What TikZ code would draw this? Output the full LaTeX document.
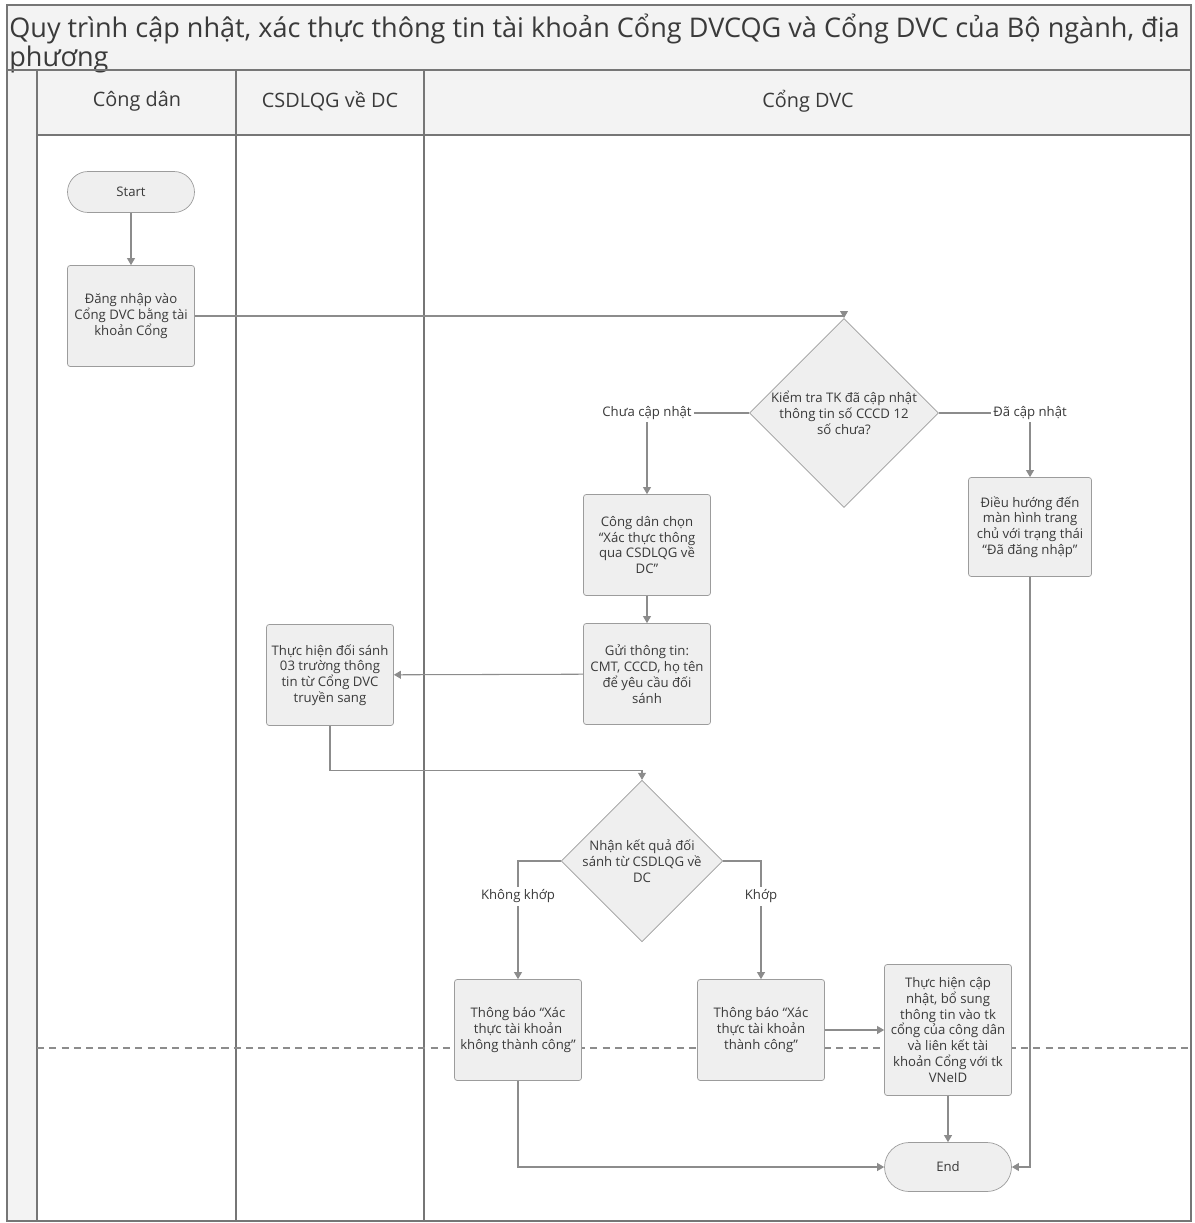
\documentclass[tikz,border=0pt]{standalone}
\usepackage{fontspec}
\setmainfont{Open Sans}
\usetikzlibrary{arrows.meta,shapes.geometric}
\definecolor{lineg}{HTML}{8C8C8C}
\definecolor{boxg}{HTML}{9C9C9C}
\definecolor{boxfill}{HTML}{EFEFEF}
\definecolor{laneg}{HTML}{767676}
\definecolor{bandfill}{HTML}{F3F3F3}
\definecolor{txtg}{HTML}{3A3A3A}
\begin{document}
\begin{tikzpicture}[x=0.02cm,y=-0.02cm,
    every node/.style={font=\fontsize{7.5}{9}\selectfont, text=txtg},
    proc/.style={draw=boxg, fill=boxfill, rounded corners=1.5pt, align=center,
      inner sep=1pt, minimum width=2.54cm, minimum height=2.02cm},
    term/.style={draw=boxg, fill=boxfill, rounded corners=0.41cm,
      minimum width=2.54cm, minimum height=0.82cm},
    decis/.style={draw=boxg, fill=boxfill, diamond, align=center, inner sep=0pt},
    lbl/.style={fill=white, inner sep=1.5pt},
    arr/.style={draw=lineg, line width=0.6pt, -{Triangle[length=4pt,width=4.5pt]}},
    lane/.style={draw=laneg, line width=1pt}]
  \useasboundingbox (0,0) rectangle (1195,1223);
  % pool frame, title and lane headers
  \fill[bandfill] (7,5) rectangle (1191,135);
  \fill[bandfill] (7,135) rectangle (37,1221);
  \node[anchor=north west, align=left, inner sep=0pt,
    font=\fontsize{15.4}{14.4}\selectfont] (title) at (9,14)
    {Quy trình cập nhật, xác thực thông tin tài khoản Cổng DVCQG và Cổng DVC của Bộ ngành, địa\\phương};
  \draw[lane] (7,5) rectangle (1191,1221);
  \draw[lane] (7,70) -- (1191,70);
  \draw[lane] (37,135) -- (1191,135);
  \draw[lane] (37,70) -- (37,1221);
  \draw[lane] (236,70) -- (236,1221);
  \draw[lane] (424,70) -- (424,1221);
  \node[font=\fontsize{11.3}{13}\selectfont] (hcd) at (137,101) {Công dân};
  \node[font=\fontsize{11.3}{13}\selectfont] (hcsdl) at (330,101) {CSDLQG về DC};
  \node[font=\fontsize{11.3}{13}\selectfont] (hdvc) at (808,101) {Cổng DVC};
  \draw[lineg, dashed, dash pattern=on 4pt off 3pt, line width=0.6pt] (37,1048) -- (1191,1048);
  % steps
  \node[term] (start) at (131,192) {Start};
  \node[proc] (login) at (131,316) {Đăng nhập vào\\Cổng DVC bằng tài\\khoản Cổng};
  \node[decis, minimum width=3.76cm, minimum height=3.24cm] (kiemtra) at (844,413)
    {Kiểm tra TK đã cập nhật\\thông tin số CCCD 12\\số chưa?};
  \node[proc] (chon) at (647,545) {Công dân chọn\\“Xác thực thông\\qua CSDLQG về\\DC”};
  \node[proc] (gui) at (647,674) {Gửi thông tin:\\CMT, CCCD, họ tên\\để yêu cầu đối\\sánh};
  \node[proc] (doisanh) at (330,675) {Thực hiện đối sánh\\03 trường thông\\tin từ Cổng DVC\\truyền sang};
  \node[proc, minimum width=2.46cm, minimum height=1.98cm] (dieuhuong) at (1030,527)
    {Điều hướng đến\\màn hình trang\\chủ với trạng thái\\“Đã đăng nhập”};
  \node[decis, minimum width=3.12cm, minimum height=2.28cm] (ketqua) at (642,861)
    {Nhận kết quả đối\\sánh từ CSDLQG về\\DC};
  \node[proc] (tbfail) at (518,1030) {Thông báo “Xác\\thực tài khoản\\không thành công”};
  \node[proc] (tbok) at (761,1030) {Thông báo “Xác\\thực tài khoản\\thành công”};
  \node[proc, minimum height=2.62cm] (capnhat) at (948,1030)
    {Thực hiện cập\\nhật, bổ sung\\thông tin vào tk\\cổng của công dân\\và liên kết tài\\khoản Cổng với tk\\VNeID};
  \node[term, minimum height=0.98cm, rounded corners=0.49cm] (end) at (948,1167) {End};
  % flows
  \draw[arr] (start) -- (login);
  \draw[arr] (login.east) -| (kiemtra.north);
  \draw[arr] (kiemtra.west) -| node[lbl, pos=0.5] {Chưa cập nhật} (chon.north);
  \draw[arr] (kiemtra.east) -| node[lbl, pos=0.5] {Đã cập nhật} (dieuhuong.north);
  \draw[arr] (chon) -- (gui);
  \draw[arr] (gui) -- (doisanh);
  \draw[arr] (doisanh.south) -- ++(0,45) -| (ketqua.north);
  \draw[arr] (ketqua.west) -| node[lbl, pos=0.65] {Không khớp} (tbfail.north);
  \draw[arr] (ketqua.east) -| node[lbl, pos=0.65] {Khớp} (tbok.north);
  \draw[arr] (tbok) -- (capnhat);
  \draw[arr] (capnhat) -- (end);
  \draw[arr] (tbfail.south) |- (end.west);
  \draw[arr] (dieuhuong.south) |- (end.east);
\end{tikzpicture}
\end{document}
